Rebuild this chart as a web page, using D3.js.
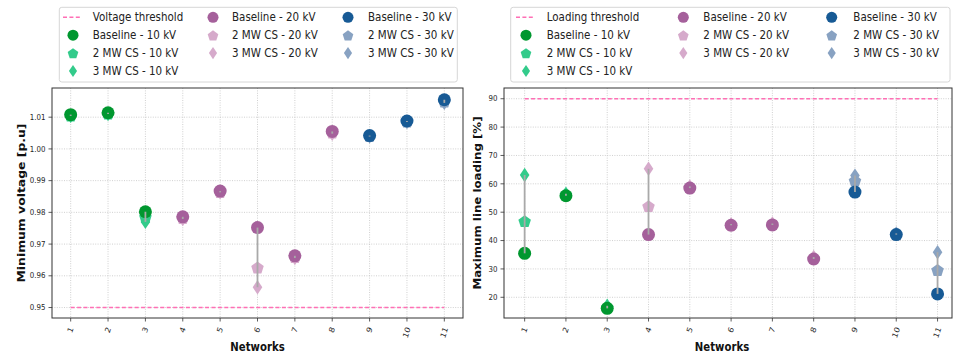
<!DOCTYPE html>
<html>
<head>
<meta charset="utf-8">
<script src="https://cdn.jsdelivr.net/npm/d3@7"></script>
<style>
  body { margin: 0; background: #fff; }
  svg { display: block; font-family: "DejaVu Sans", sans-serif; }
</style>
</head>
<body>
<svg id="chart" width="953" height="355"></svg>
<script>
// networks and their voltage level
const networks = [1, 2, 3, 4, 5, 6, 7, 8, 9, 10, 11];
const networkLevel = ['10 kV', '10 kV', '10 kV', '20 kV', '20 kV', '20 kV', '20 kV', '20 kV', '30 kV', '30 kV', '30 kV'];
const levels = ['10 kV', '20 kV', '30 kV'];
const scenarios = ['Baseline', '2 MW CS', '3 MW CS'];

// minimum voltage [p.u]
const voltageBaseline = [1.0108, 1.0114, 0.9802, 0.9786, 0.9867, 0.9752, 0.9663, 1.0055, 1.0042, 1.0088, 1.0155];
const voltage2MW      = [1.0106, 1.0112, 0.9786, 0.9783, 0.9865, 0.9627, 0.9660, 1.0052, 1.0041, 1.0087, 1.0150];
const voltage3MW      = [1.0104, 1.0110, 0.9770, 0.9779, 0.9863, 0.9564, 0.9656, 1.0048, 1.0039, 1.0085, 1.0145];
const voltageThreshold = 0.95;
const voltageTicks = [0.95, 0.96, 0.97, 0.98, 0.99, 1.00, 1.01];

// maximum line loading [%]
const loadingBaseline = [35.5, 55.8, 16.1, 42.1, 58.5, 45.4, 45.5, 33.5, 57.1, 42.1, 21.2];
const loading2MW      = [46.9, 56.2, 16.5, 52.2, 58.8, 45.6, 45.8, 33.8, 61.2, 42.3, 29.7];
const loading3MW      = [63.1, 56.5, 17.0, 65.3, 59.1, 45.8, 46.0, 34.2, 62.9, 42.5, 35.9];
const loadingThreshold = 90;
const loadingTicks = [20, 30, 40, 50, 60, 70, 80, 90];

const colors = {
  '10 kV': { 'Baseline': '#00972f', 'CS': '#33cb8b' },
  '20 kV': { 'Baseline': '#a5609b', 'CS': '#d6aacb' },
  '30 kV': { 'Baseline': '#175a95', 'CS': '#88a2c2' }
};
const shapes = { 'Baseline': 'circle', '2 MW CS': 'pentagon', '3 MW CS': 'diamond' };
const SX = 0.86; // text in the picture is squeezed horizontally

const svg = d3.select('#chart');

function colorOf(level, scenario) {
  return colors[level][scenario === 'Baseline' ? 'Baseline' : 'CS'];
}

function shapePath(shape) {
  if (shape === 'pentagon') {
    const R = 6.6;
    const pts = d3.range(5).map(i => {
      const a = -Math.PI / 2 + i * 2 * Math.PI / 5;
      return [R * Math.cos(a), R * Math.sin(a) + 0.8];
    });
    return d3.line()(pts) + 'Z';
  }
  if (shape === 'diamond') {
    return 'M0,-7.2L4.8,0L0,7.2L-4.8,0Z';
  }
  return d3.symbol(d3.symbolCircle, Math.PI * 6.5 * 6.5)();
}

function addText(g, x, y, str, o = {}) {
  return g.append('text')
    .attr('transform', `translate(${x},${y}) scale(${SX},1)` + (o.rotate ? ` rotate(${o.rotate})` : ''))
    .attr('text-anchor', o.anchor || 'start')
    .attr('dominant-baseline', o.baseline || 'central')
    .attr('font-size', o.size || 12)
    .attr('font-weight', o.weight || 'normal')
    .attr('fill', o.fill || '#111')
    .text(str);
}

function drawPanel(p) {
  const g = svg.append('g');
  const x = d3.scaleLinear().domain(p.xDomain).range([p.left, p.right]);
  const y = d3.scaleLinear().domain(p.yDomain).range([p.bottom, p.top]);

  // grid
  g.append('g').selectAll('line.gx').data(networks).enter().append('line')
    .attr('x1', d => x(d)).attr('x2', d => x(d))
    .attr('y1', p.top).attr('y2', p.bottom)
    .attr('stroke', '#c4c4c4').attr('stroke-width', 0.8).attr('stroke-dasharray', '1,1.4');
  g.append('g').selectAll('line.gy').data(p.ticks).enter().append('line')
    .attr('x1', p.left).attr('x2', p.right)
    .attr('y1', d => y(d)).attr('y2', d => y(d))
    .attr('stroke', '#c4c4c4').attr('stroke-width', 0.8).attr('stroke-dasharray', '1,1.4');

  // threshold
  g.append('line')
    .attr('x1', x(networks[0])).attr('x2', x(networks[networks.length - 1]))
    .attr('y1', y(p.threshold)).attr('y2', y(p.threshold))
    .attr('stroke', '#ff6fb5').attr('stroke-width', 1.6).attr('stroke-dasharray', '4,2.4');

  // markers: 3 MW first, baseline on top
  const order = [[p.series[2], '3 MW CS'], [p.series[1], '2 MW CS'], [p.series[0], 'Baseline']];
  order.forEach(([vals, sc]) => {
    g.append('g').selectAll('path').data(networks).enter().append('path')
      .attr('d', shapePath(shapes[sc]))
      .attr('transform', (d, i) => `translate(${x(d)},${y(vals[i])})`)
      .attr('fill', (d, i) => colorOf(networkLevel[i], sc));
  });

  // range lines between scenarios
  g.append('g').selectAll('line').data(networks).enter().append('line')
    .attr('x1', d => x(d)).attr('x2', d => x(d))
    .attr('y1', (d, i) => y(d3.min(p.series, s => s[i])))
    .attr('y2', (d, i) => y(d3.max(p.series, s => s[i])))
    .attr('stroke', '#a9a9a9').attr('stroke-width', 1.8);

  // frame
  g.append('rect')
    .attr('x', p.left).attr('y', p.top)
    .attr('width', p.right - p.left).attr('height', p.bottom - p.top)
    .attr('fill', 'none').attr('stroke', '#333').attr('stroke-width', 1);

  // y ticks
  p.ticks.forEach(t => {
    g.append('line').attr('x1', p.left - 3.5).attr('x2', p.left)
      .attr('y1', y(t)).attr('y2', y(t)).attr('stroke', '#333').attr('stroke-width', 0.8);
    addText(g, p.left - 6.5, y(t), p.format(t), { anchor: 'end', size: 8.2, fill: '#262626' });
  });
  // x ticks
  networks.forEach(n => {
    g.append('line').attr('x1', x(n)).attr('x2', x(n))
      .attr('y1', p.bottom).attr('y2', p.bottom + 3.5).attr('stroke', '#333').attr('stroke-width', 0.8);
    const s = String(n);
    const w = s.length * 0.636 * 8.6;
    const h = w * Math.sin(70 * Math.PI / 180) + 8.6 * Math.cos(70 * Math.PI / 180);
    addText(g, x(n), p.bottom + 8 + h / 2, s, { anchor: 'middle', size: 8.6, fill: '#222', rotate: -70 });
  });

  // axis labels
  addText(g, (p.left + p.right) / 2 - (p.xShift || 0), 347, 'Networks', { anchor: 'middle', size: 11.8, weight: 'bold' });
  addText(g, p.ylabelX, (p.top + p.bottom) / 2, p.ylabel, { anchor: 'middle', size: p.ylabelSize, weight: 'bold', rotate: -90 });

  // legend
  const L = p.legend;
  g.append('rect')
    .attr('x', L.x0).attr('y', 7.3).attr('width', L.x1 - L.x0).attr('height', 74.7)
    .attr('rx', 2.5).attr('fill', '#fff').attr('stroke', '#d6d6d6').attr('stroke-width', 1);
  const rows = [17.3, 35.2, 53.1, 71];
  const entries = [{ type: 'threshold', label: p.thresholdLabel }];
  levels.forEach(lv => scenarios.forEach(sc => entries.push({ type: sc, level: lv, label: `${sc} - ${lv}` })));
  const colOf = [0, 0, 0, 0, 1, 1, 1, 2, 2, 2];
  const rowOf = [0, 1, 2, 3, 0, 1, 2, 0, 1, 2];
  entries.forEach((e, i) => {
    const c = colOf[i], r = rows[rowOf[i]];
    if (e.type === 'threshold') {
      g.append('line').attr('x1', L.marker[c] - 10).attr('x2', L.marker[c] + 9)
        .attr('y1', r).attr('y2', r)
        .attr('stroke', '#ff6fb5').attr('stroke-width', 1.6).attr('stroke-dasharray', '4,2.4');
    } else {
      g.append('path').attr('d', shapePath(shapes[e.type]))
        .attr('transform', `translate(${L.marker[c]},${r}) scale(0.85)`)
        .attr('fill', colorOf(e.level, e.type));
    }
    addText(g, L.text[c], r, e.label, { size: 12, fill: '#222' });
  });
}

drawPanel({
  left: 52, right: 463, top: 88, bottom: 318,
  xDomain: [0.5, 11.5], yDomain: [0.9467, 1.0192],
  ticks: voltageTicks, format: d3.format('.2f'),
  threshold: voltageThreshold, thresholdLabel: 'Voltage threshold',
  series: [voltageBaseline, voltage2MW, voltage3MW],
  ylabel: 'Minimum voltage [p.u]', ylabelX: 21, ylabelSize: 12.4,
  legend: { x0: 59.3, x1: 457.3, marker: [73, 213, 348], text: [92.7, 232, 368] }
});

drawPanel({
  left: 504, right: 952, top: 88, bottom: 318,
  xDomain: [0.5, 11.35], yDomain: [12.7, 93.78],
  ticks: loadingTicks, format: d3.format('d'),
  threshold: loadingThreshold, thresholdLabel: 'Loading threshold',
  series: [loadingBaseline, loading2MW, loading3MW],
  ylabel: 'Maximum line loading [%]', ylabelX: 478, ylabelSize: 11.8, xShift: 6,
  legend: { x0: 510.7, x1: 950, marker: [526, 683.3, 831.7], text: [546.7, 703.3, 853.3] }
});
</script>
</body>
</html>
